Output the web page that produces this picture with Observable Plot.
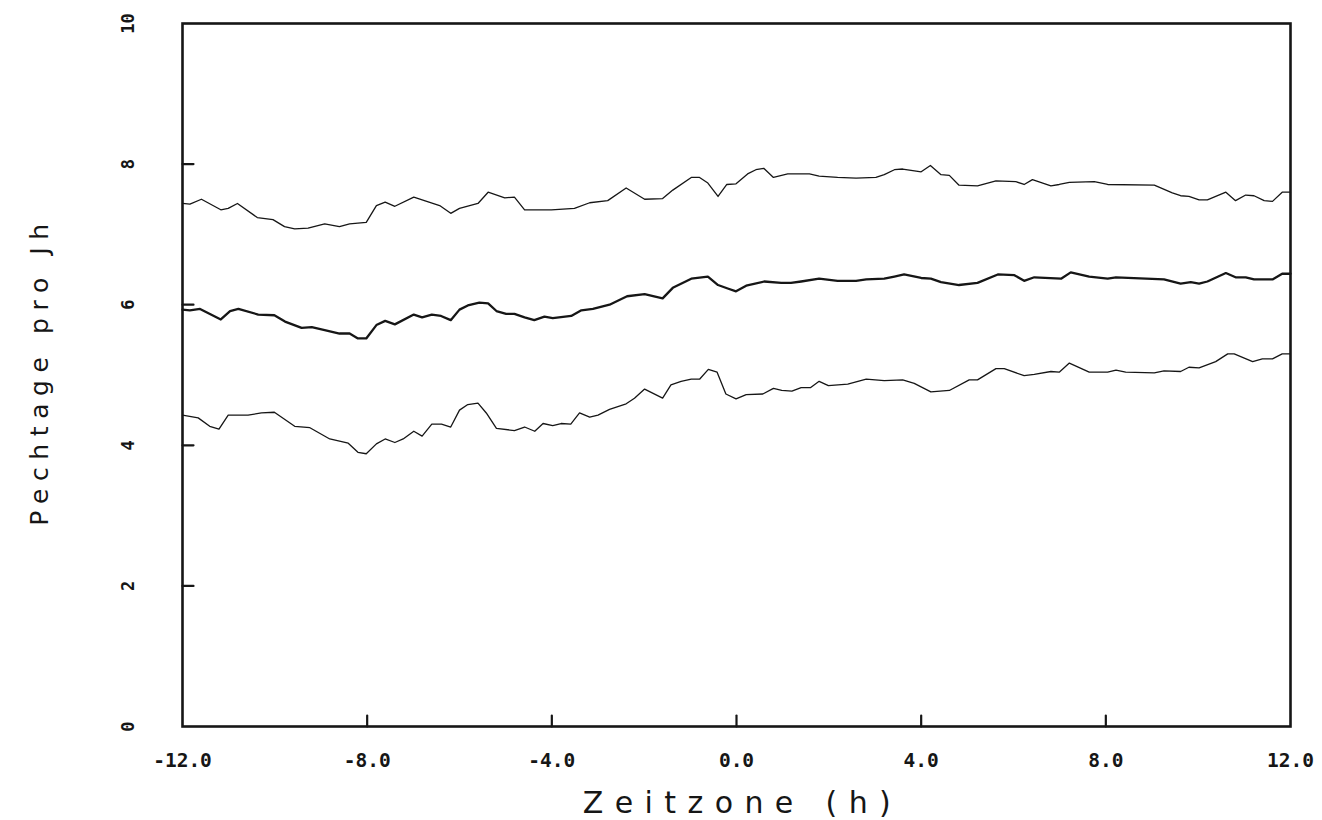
<!DOCTYPE html>
<html><head><meta charset="utf-8">
<script src="https://cdn.jsdelivr.net/npm/d3@7"></script>
<script src="https://cdn.jsdelivr.net/npm/@observablehq/plot@0.6"></script>
<style>body{margin:0;background:#fff;} svg{display:block;}</style>
</head><body><div id="chart"></div>
<script>
const xTicks = [-12, -8, -4, 0, 4, 8, 12];
const yTicks = [0, 2, 4, 6, 8, 10];
const xTitle = "Zeitzone (h)";
const yTitle = "Pechtage pro Jh";

// [Zeitzone h, Pechtage pro Jh]
const upper = [[-12.0,7.44],[-11.84,7.43],[-11.59,7.50],[-11.17,7.35],[-11.01,7.37],[-10.81,7.44],[-10.38,7.24],[-10.04,7.21],[-9.79,7.11],[-9.57,7.08],[-9.28,7.09],[-8.92,7.15],[-8.60,7.11],[-8.38,7.15],[-8.02,7.17],[-7.80,7.41],[-7.61,7.46],[-7.40,7.40],[-6.99,7.53],[-6.43,7.41],[-6.19,7.30],[-6.00,7.37],[-5.60,7.44],[-5.38,7.60],[-5.02,7.52],[-4.81,7.53],[-4.59,7.35],[-4.23,7.35],[-4.01,7.35],[-3.51,7.37],[-3.18,7.45],[-2.79,7.48],[-2.39,7.66],[-1.99,7.50],[-1.60,7.51],[-1.38,7.63],[-0.98,7.81],[-0.80,7.81],[-0.62,7.73],[-0.40,7.54],[-0.21,7.71],[-0.01,7.72],[0.24,7.86],[0.42,7.92],[0.59,7.94],[0.80,7.81],[1.11,7.86],[1.58,7.86],[1.79,7.83],[2.19,7.81],[2.59,7.80],[3.02,7.81],[3.20,7.85],[3.42,7.92],[3.60,7.93],[4.00,7.89],[4.20,7.98],[4.43,7.85],[4.61,7.84],[4.82,7.70],[5.22,7.69],[5.62,7.76],[6.05,7.75],[6.23,7.71],[6.41,7.78],[6.81,7.69],[6.99,7.71],[7.21,7.74],[7.75,7.75],[8.04,7.71],[9.05,7.70],[9.44,7.59],[9.62,7.55],[9.80,7.54],[10.02,7.49],[10.20,7.49],[10.60,7.60],[10.81,7.48],[11.03,7.56],[11.21,7.55],[11.43,7.48],[11.61,7.47],[11.82,7.60],[12.00,7.60]];

const middle = [[-12.0,5.93],[-11.84,5.92],[-11.62,5.94],[-11.17,5.79],[-10.97,5.91],[-10.79,5.94],[-10.36,5.86],[-10.01,5.85],[-9.78,5.76],[-9.42,5.67],[-9.20,5.68],[-8.92,5.64],[-8.60,5.59],[-8.38,5.59],[-8.20,5.52],[-8.02,5.52],[-7.80,5.71],[-7.61,5.77],[-7.40,5.72],[-6.99,5.86],[-6.81,5.82],[-6.60,5.86],[-6.40,5.84],[-6.19,5.78],[-6.00,5.93],[-5.82,5.99],[-5.57,6.03],[-5.38,6.02],[-5.20,5.91],[-4.99,5.87],[-4.81,5.87],[-4.59,5.82],[-4.38,5.78],[-4.16,5.83],[-3.98,5.81],[-3.58,5.84],[-3.36,5.92],[-3.11,5.94],[-2.75,6.00],[-2.37,6.12],[-1.99,6.15],[-1.60,6.09],[-1.38,6.24],[-0.98,6.37],[-0.62,6.40],[-0.40,6.28],[-0.19,6.23],[-0.01,6.19],[0.21,6.27],[0.60,6.33],[0.97,6.31],[1.18,6.31],[1.40,6.33],[1.79,6.37],[2.19,6.34],[2.59,6.34],[2.81,6.36],[3.20,6.37],[3.42,6.40],[3.63,6.43],[4.00,6.38],[4.21,6.37],[4.43,6.32],[4.82,6.28],[5.22,6.31],[5.66,6.43],[6.02,6.42],[6.23,6.34],[6.45,6.39],[7.03,6.37],[7.24,6.46],[7.64,6.40],[8.04,6.37],[8.22,6.39],[9.26,6.36],[9.62,6.30],[9.84,6.32],[10.02,6.30],[10.20,6.33],[10.60,6.45],[10.81,6.39],[11.03,6.39],[11.21,6.36],[11.61,6.36],[11.82,6.44],[12.00,6.44]];

const lower = [[-12.0,4.43],[-11.66,4.39],[-11.41,4.27],[-11.21,4.23],[-11.01,4.43],[-10.58,4.43],[-10.29,4.46],[-10.01,4.47],[-9.57,4.27],[-9.24,4.25],[-8.81,4.09],[-8.41,4.03],[-8.20,3.90],[-8.02,3.88],[-7.80,4.02],[-7.61,4.09],[-7.40,4.04],[-7.22,4.09],[-6.99,4.20],[-6.81,4.13],[-6.60,4.30],[-6.39,4.30],[-6.19,4.26],[-6.00,4.50],[-5.82,4.58],[-5.60,4.60],[-5.42,4.46],[-5.20,4.24],[-4.81,4.21],[-4.59,4.26],[-4.37,4.20],[-4.19,4.31],[-3.98,4.28],[-3.80,4.31],[-3.59,4.30],[-3.40,4.46],[-3.18,4.40],[-3.00,4.43],[-2.75,4.51],[-2.39,4.59],[-2.21,4.67],[-1.99,4.80],[-1.60,4.67],[-1.42,4.86],[-1.20,4.91],[-0.98,4.94],[-0.80,4.94],[-0.61,5.08],[-0.42,5.04],[-0.23,4.73],[-0.01,4.66],[0.21,4.72],[0.57,4.73],[0.80,4.81],[0.98,4.78],[1.20,4.77],[1.40,4.82],[1.60,4.82],[1.79,4.91],[1.99,4.85],[2.41,4.87],[2.81,4.94],[3.20,4.92],[3.60,4.93],[3.85,4.88],[4.21,4.76],[4.61,4.78],[5.04,4.93],[5.22,4.93],[5.62,5.09],[5.80,5.09],[6.23,4.99],[6.45,5.01],[6.81,5.05],[6.99,5.04],[7.21,5.17],[7.64,5.04],[8.04,5.04],[8.22,5.07],[8.43,5.04],[9.05,5.03],[9.26,5.06],[9.62,5.05],[9.80,5.11],[10.02,5.10],[10.38,5.19],[10.64,5.30],[10.78,5.30],[11.18,5.19],[11.39,5.23],[11.61,5.23],[11.82,5.30],[12.00,5.30]];

const tickShape = {draw(context, l) { context.moveTo(0, 0); context.lineTo(0, -l); }};
const ink = "#161616";

const chart = Plot.plot({
  width: 1322, height: 820,
  marginLeft: 182, marginRight: 32, marginTop: 23, marginBottom: 94,
  x: {domain: [-12, 12], axis: null},
  y: {domain: [0, 10], axis: null},
  marks: [
    Plot.line(upper, {x: d => d[0], y: d => d[1], stroke: ink, strokeWidth: 1.3}),
    Plot.line(middle, {x: d => d[0], y: d => d[1], stroke: ink, strokeWidth: 2.3}),
    Plot.line(lower, {x: d => d[0], y: d => d[1], stroke: ink, strokeWidth: 1.3}),
    Plot.vectorY(yTicks.slice(1, -1), {y: d => d, frameAnchor: "left", length: 11, rotate: 90, anchor: "start", shape: tickShape, stroke: ink, strokeWidth: 2.2}),
    Plot.vectorX(xTicks.slice(1, -1), {x: d => d, frameAnchor: "bottom", length: 11, rotate: 0, anchor: "start", shape: tickShape, stroke: ink, strokeWidth: 2.2}),
    Plot.frame({stroke: ink, strokeWidth: 2.6}),
    Plot.axisX(xTicks, {tickSize: 0, tickPadding: 27, tickFormat: d => d.toFixed(1), fontFamily: "DejaVu Sans Mono", fontWeight: "bold", fontSize: 19.5, fill: ink, label: null}),
    Plot.text(yTicks, {y: d => d, text: d => String(d), frameAnchor: "left", textAnchor: "middle", dx: -54, rotate: -90, fontFamily: "DejaVu Sans Mono", fontWeight: "bold", fontSize: 17, fill: ink}),
    Plot.text([xTitle], {text: d => d, frameAnchor: "bottom", textAnchor: "middle", lineAnchor: "middle", dx: 6, dy: 77, fontFamily: "DejaVu Sans", fontSize: 30, fill: ink}),
    Plot.text([yTitle], {text: d => d, frameAnchor: "left", textAnchor: "middle", lineAnchor: "middle", dx: -143, dy: -4, rotate: -90, fontFamily: "DejaVu Sans", fontSize: 25, fill: ink})
  ]
});
const sel = d3.select(chart).selectAll("text");
sel.filter(function() { return this.textContent === xTitle; }).style("letter-spacing", "11.4px");
sel.filter(function() { return this.textContent === yTitle; }).style("letter-spacing", "7.6px");
document.getElementById("chart").appendChild(chart);
</script>
</body></html>
